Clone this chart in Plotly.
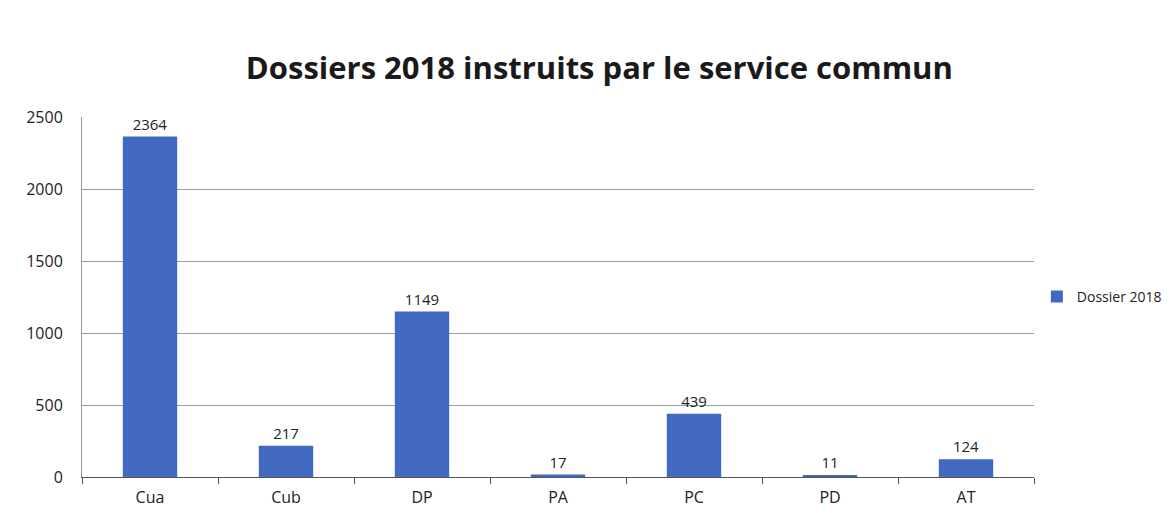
import plotly.graph_objects as go

categories = ['Cua', 'Cub', 'DP', 'PA', 'PC', 'PD', 'AT']
dossiers_2018 = [2364, 217, 1149, 17, 439, 11, 124]
series_name = 'Dossier 2018'
title_text = 'Dossiers 2018 instruits par le service commun'


def plotting(categories, values, save_path):
    fig = go.Figure()
    fig.add_trace(go.Bar(x=categories, y=values,
                         name=series_name,
                         marker_color='#4169bf',
                         width=0.4,
                         text=values,
                         textposition='outside',
                         cliponaxis=False,
                         textfont=dict(size=15, color='#222222')))

    title = {'text': f"<b>{title_text}</b>",
             'y': 0.883,
             'x': 0.505,
             'xanchor': 'center',
             'yanchor': 'middle',
             'font': dict(size=31, color='#1a1a1a', family='Open Sans')}

    fig.update_layout(
        template="none",
        width=1171, height=513,
        paper_bgcolor='white',
        plot_bgcolor='white',
        font_family="Open Sans",
        font_color="#222222",
        title=title,
        showlegend=True,
        legend=dict(x=1.003, y=0.5, xanchor='left', yanchor='middle',
                    font=dict(size=14, color='#222222')),
        margin=dict(l=74, r=142, t=109, b=44),
        bargap=0.6,
    )
    fig.update_xaxes(
        showline=True, linecolor='#555555', linewidth=1,
        ticks='outside', ticklen=6, tickcolor='#555555',
        tickson='boundaries',
        tickfont=dict(size=16, color='#222222'),
        ticklabelstandoff=6,
        showgrid=False)
    fig.update_yaxes(
        range=[0, 2500], dtick=500,
        showline=True, linecolor='#999999', linewidth=1,
        gridcolor='#9a9a9a', gridwidth=1,
        zeroline=False,
        tickfont=dict(size=16, color='#222222'),
        ticklabelstandoff=15)

    fig.write_html(save_path)


if __name__ == '__main__':
    plotting(categories, dossiers_2018, "out.html")
